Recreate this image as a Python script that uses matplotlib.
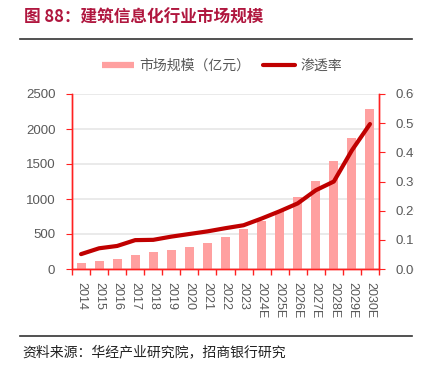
import matplotlib
matplotlib.use("Agg")
import matplotlib.pyplot as plt
from matplotlib.lines import Line2D
from matplotlib.transforms import Bbox, TransformedBbox

plt.rcParams["font.family"] = ["Liberation Sans", "Noto Sans CJK SC"]
CJK = ["Noto Sans CJK SC", "DejaVu Sans"]

years = ["2014", "2015", "2016", "2017", "2018", "2019", "2020", "2021", "2022",
         "2023", "2024E", "2025E", "2026E", "2027E", "2028E", "2029E", "2030E"]
market_size = [90, 115, 150, 205, 245, 273, 316, 377, 458,
               565, 690, 833, 1030, 1254, 1537, 1867, 2284]
penetration = [0.051, 0.071, 0.079, 0.099, 0.100, 0.111, 0.120, 0.129, 0.140,
               0.150, 0.173, 0.198, 0.225, 0.270, 0.300, 0.407, 0.497]

left_ticks = [0, 500, 1000, 1500, 2000, 2500]
right_ticks = [0.0, 0.1, 0.2, 0.3, 0.4, 0.5, 0.6]

title_color = "#B0173F"
axis_red = "#FF2020"
bar_color = "#FFA0A0"
line_color = "#C00000"
text_gray = "#595959"

fig = plt.figure(figsize=(4.26, 3.66), dpi=100)
ax = fig.add_axes([72 / 426, 1 - 269 / 366, 307 / 426, 175 / 366])
ax2 = ax.twinx()

x = list(range(len(years)))
ax.bar(x, market_size, width=0.5, color=bar_color, zorder=2)
ax2.plot(x, penetration, color=line_color, lw=3.0, solid_capstyle="round",
         solid_joinstyle="round", zorder=3)

ax.set_xlim(-0.5, len(years) - 0.5)
ax.set_ylim(0, 2500)
ax2.set_ylim(0, 0.6)
ax.set_yticks(left_ticks)
ax.set_yticklabels([str(v) for v in left_ticks])
ax2.set_yticks(right_ticks)
ax2.set_yticklabels([f"{v:.2f}" for v in right_ticks])

ax.set_xticks(x)
ax.set_xticklabels(years, rotation=-90)
ax.set_xticks([i - 0.5 for i in range(len(years) + 1)], minor=True)
ax.tick_params(axis="x", which="major", length=0, pad=9, labelsize=9, labelcolor=text_gray)
ax.tick_params(axis="x", which="minor", length=4, color=axis_red, width=1)
ax.tick_params(axis="y", length=4, color=axis_red, pad=8, labelsize=9.5, labelcolor=text_gray)
ax2.tick_params(axis="y", length=4, color=axis_red, pad=8, labelsize=9.5, labelcolor=text_gray)

ax.grid(axis="y", color="#E6E6E6", lw=1.2, zorder=0)
ax.set_axisbelow(True)
for a in (ax, ax2):
    a.spines["top"].set_visible(False)
    for s in ("left", "right", "bottom"):
        a.spines[s].set_color(axis_red)
        a.spines[s].set_linewidth(1.0)

# title, rules, source
fig.text(24 / 426, 1 - 18 / 366, "图 88：建筑信息化行业市场规模", family=CJK,
         fontsize=12, fontweight="bold", color=title_color, va="center")
fig.add_artist(Line2D([20 / 426, 412 / 426], [1 - 39 / 366] * 2, color="#333333", lw=1.2))
fig.add_artist(Line2D([20 / 426, 412 / 426], [1 - 336 / 366] * 2, color="#333333", lw=1.2))
fig.text(22 / 426, 1 - 352 / 366, "资料来源：华经产业研究院，招商银行研究", family=CJK,
         fontsize=10, color="#222222", va="center")

handles = [Line2D([], [], color=bar_color, lw=4.5, solid_capstyle="butt"),
           Line2D([], [], color=line_color, lw=3.0, solid_capstyle="round")]
leg = fig.legend(handles, ["市场规模（亿元）", "渗透率"], loc="center",
                 bbox_to_anchor=(222 / 426, 1 - 66 / 366), ncol=2, frameon=False,
                 handlelength=2.3, handletextpad=0.4, columnspacing=0.9,
                 prop={"family": CJK, "size": 10})
for t in leg.get_texts():
    t.set_color(text_gray)

fig.canvas.draw()
clip = TransformedBbox(Bbox.from_extents(0, 0, 414 / 426, 1), fig.transFigure)
for lab in ax2.get_yticklabels():
    lab.set_clip_box(clip)
    lab.set_clip_on(True)

fig.savefig("out.png", dpi=100)
